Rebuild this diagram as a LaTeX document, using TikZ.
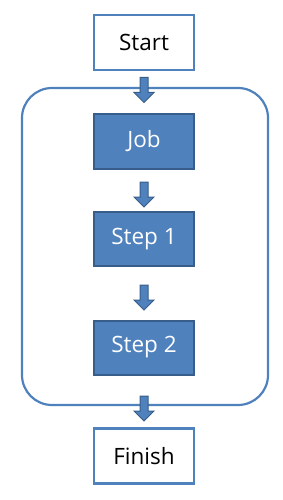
\documentclass[tikz,border=0pt]{standalone}
\usepackage{fontspec}
\setmainfont{Open Sans}
\usetikzlibrary{shapes.arrows}
\definecolor{boxblue}{HTML}{4F81BD}
\definecolor{edgeblue}{HTML}{385D8A}
\begin{document}
\begin{tikzpicture}[
    x=1pt, y=-1pt,
    outer/.style={draw=boxblue, line width=2.2pt, minimum width=100pt, minimum height=55pt, fill=white, font=\fontsize{22.5}{26}\selectfont},
    inner/.style={draw=edgeblue, line width=2pt, fill=boxblue, text=white, minimum width=100pt, minimum height=54pt, font=\fontsize{22.5}{26}\selectfont},
    flow/.style={single arrow, draw=edgeblue, fill=boxblue, line width=1pt, rotate=-90, inner sep=3.5pt, minimum height=25pt, single arrow head extend=6pt}
  ]
  \useasboundingbox (0,0) rectangle (283,500);
  \draw[boxblue, line width=2.2pt, rounded corners=30pt] (22,88) rectangle (268,405);
  \node[outer] (start) at (144,42.5) {Start};
  \node[inner] (job) at (144,141.5) {Job};
  \node[inner] (step1) at (144,239) {Step 1};
  \node[inner] (step2) at (144,347.5) {Step 2};
  \node[outer] (finish) at (144,456) {Finish};
  \node[flow] (a1) at (144,88) {};
  \node[flow] (a2) at (144,192.5) {};
  \node[flow] (a3) at (144,295.5) {};
  \node[flow] (a4) at (144,406.5) {};
\end{tikzpicture}
\end{document}
